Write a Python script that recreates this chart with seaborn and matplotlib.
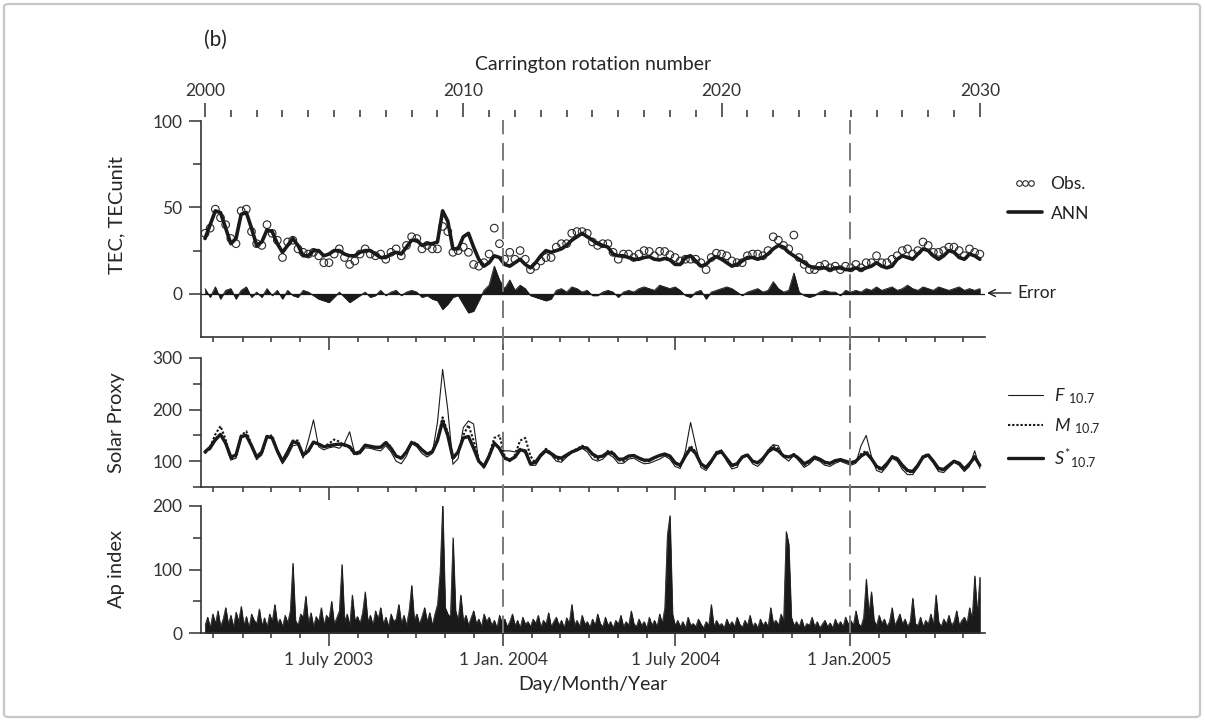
import datetime as dt

import matplotlib
matplotlib.use("Agg")
import matplotlib.pyplot as plt
import numpy as np
import seaborn as sns
from matplotlib.legend_handler import HandlerLine2D
from matplotlib.lines import Line2D
from matplotlib.patches import FancyBboxPatch

# ---------------------------------------------------------------- data
# Carrington rotation sampling of the smooth series (every 0.2 rotation)
cr = np.round(np.arange(2000.0, 2030.0001, 0.2), 1)

tec_ann = [32, 40, 48, 47, 38, 29, 32, 46, 47, 38, 28, 30, 37, 36, 29, 24, 28, 32, 28, 22,
           22, 25, 25, 22, 23, 25, 25, 23, 22, 22, 24, 25, 25, 23, 21, 21, 23, 24, 23, 27,
           31, 31, 28, 29, 29, 30, 48, 42, 26, 26, 33, 35, 27, 20, 16, 18, 22, 21, 17, 16,
           18, 20, 17, 15, 18, 22, 25, 24, 25, 26, 28, 31, 33, 35, 33, 31, 29, 28, 27, 23,
           22, 22, 21, 20, 20, 21, 21.5, 20, 19.6, 20.5, 19.6, 17, 17, 21, 22, 19, 16, 17, 20, 21.5,
           20, 18, 16, 17, 19, 21, 21, 20, 21, 23, 26, 28, 27, 24, 22, 20, 18, 16, 15, 15,
           15, 14, 15, 15, 14, 14, 15, 14, 15, 16, 18, 16, 15, 16, 20, 22, 21, 20, 23, 26,
           25, 22, 20, 22, 25, 24, 21, 20, 23, 22, 20]

tec_obs = [35, 38, 49, 44, 40, 32, 29, 48, 49, 36, 29, 28, 40, 35, 31, 21, 30, 31, 26, 24,
           23, 24, 22, 18, 18, 23, 26, 21, 17, 19, 23, 26, 23, 22, 23, 20, 24, 26, 22, 28,
           33, 32, 26, 28, 26, 26, 39, 36, 24, 25, 27, 24, 17, 16, 18, 23, 38, 29, 20, 24,
           20, 25, 20, 14, 16, 19, 21, 21, 27, 29, 29, 35, 36, 36, 35, 30, 28, 29, 29, 24,
           20, 23, 23, 21, 23, 25, 24.5, 22, 24.6, 24.5, 22.6, 21, 19, 20, 20, 20, 18, 14, 21, 23.5,
           23, 22, 19, 18, 18, 22, 23, 23, 22, 25, 33, 31, 28, 26, 34, 21, 17, 14, 14, 16,
           17, 15, 16, 14, 16, 15, 17, 15, 18, 18, 22, 18, 18, 20, 22, 25, 26, 23, 25, 30,
           28, 24, 24, 25, 27, 27, 25, 22, 26, 24, 23]

tec_err = [3, -2, 4, -3, 2, 3, -3, 2, 4, -2, 1, -2, 3, -1, 2, -3, 2, -1, -2, 2,
           1, -1, -3, -4, -5, -2, 1, -2, -5, -3, -1, 1, -2, -1, 2, -1, 1, 2, -1, 1,
           2, 1, -2, -1, -3, -4, -9, -6, -2, -1, -6, -11, -10, -4, 2, 5, 16, 8, 3, 8,
           2, 5, 3, -1, -2, -3, -4, -3, 2, 3, 1, 4, 3, 1, 2, -1, -1, 1, 2, 1,
           -2, 1, 2, 1, 3, 4, 3, 2, 5, 4, 3, 4, 2, -1, -2, 1, 2, -3, 1, 2,
           3, 4, 3, 1, -1, 1, 2, 3, 1, 2, 7, 3, 1, 2, 12, 1, -1, -2, -1, 1,
           2, 1, 1, -1, 2, 1, 2, 1, 3, 2, 4, 2, 3, 4, 2, 3, 5, 3, 2, 4,
           3, 2, 4, 3, 2, 3, 4, 2, 3, 2, 3]

f107 = [120, 122, 138, 150, 132, 102, 106, 145, 150, 128, 104, 112, 146, 148, 116, 95, 110, 130, 132, 106,
        140, 180, 128, 122, 126, 128, 125, 135, 157, 115, 114, 126, 125, 122, 120, 130, 118, 100, 95, 110,
        135, 128, 115, 108, 115, 175, 278, 200, 94, 105, 165, 178, 172, 100, 86, 105, 138, 122, 120, 120,
        118, 125, 115, 92, 92, 108, 118, 112, 100, 98, 108, 116, 120, 125, 118, 104, 100, 104, 114, 108,
        96, 96, 104, 106, 100, 95, 96, 100, 104, 110, 104, 90, 86, 120, 175, 130, 88, 82, 96, 118,
        122, 100, 85, 88, 110, 112, 95, 90, 100, 122, 132, 130, 108, 100, 112, 100, 88, 94, 104, 100,
        92, 90, 96, 100, 96, 92, 96, 130, 150, 110, 82, 78, 90, 106, 100, 84, 74, 74, 88, 106,
        110, 96, 80, 78, 88, 98, 92, 80, 90, 120, 86]

m107 = [115, 128, 152, 168, 142, 104, 110, 150, 158, 132, 104, 115, 148, 150, 120, 98, 115, 140, 140, 110,
        118, 136, 134, 128, 134, 142, 138, 130, 126, 112, 116, 130, 128, 125, 126, 138, 128, 110, 104, 118,
        138, 134, 122, 114, 120, 142, 185, 155, 104, 118, 150, 170, 140, 102, 88, 112, 145, 150, 110, 100,
        112, 140, 145, 110, 96, 112, 124, 116, 104, 102, 110, 118, 124, 130, 126, 112, 104, 110, 120, 118,
        102, 100, 108, 112, 106, 100, 100, 106, 110, 114, 110, 96, 90, 112, 130, 118, 94, 86, 100, 118,
        120, 104, 90, 94, 108, 114, 100, 96, 106, 120, 130, 124, 110, 108, 114, 106, 92, 98, 108, 104,
        96, 94, 100, 104, 100, 96, 100, 114, 120, 106, 88, 82, 94, 110, 106, 90, 80, 78, 92, 110,
        114, 100, 84, 82, 92, 100, 96, 84, 94, 110, 90]

s107 = [118, 127, 142, 152, 135, 108, 112, 148, 150, 130, 108, 118, 148, 145, 120, 100, 118, 138, 135, 112,
        120, 137, 133, 128, 130, 132, 133, 132, 128, 115, 118, 131, 129, 127, 127, 136, 125, 110, 106, 118,
        136, 132, 122, 114, 118, 140, 178, 150, 106, 118, 145, 148, 125, 100, 90, 110, 135, 125, 106, 102,
        108, 122, 120, 95, 98, 112, 121, 115, 108, 106, 112, 118, 122, 127, 125, 114, 108, 110, 117, 115,
        104, 104, 110, 111, 106, 102, 102, 107, 111, 114, 110, 97, 92, 110, 125, 115, 95, 88, 100, 115,
        118, 105, 92, 95, 108, 112, 100, 97, 105, 118, 125, 120, 110, 108, 112, 105, 95, 100, 108, 104,
        98, 96, 101, 103, 100, 97, 100, 110, 116, 105, 90, 85, 95, 108, 105, 92, 82, 80, 92, 108,
        112, 100, 86, 84, 92, 100, 96, 85, 95, 108, 92]

# Ap index sampled every 0.1 rotation
cr_ap = np.round(np.arange(2000.0, 2030.0001, 0.1), 1)
ap = [12, 25, 8, 30, 15, 35, 10, 22, 40, 14,
      28, 9, 33, 18, 42, 12, 26, 8, 30, 20,
      15, 38, 11, 24, 9, 30, 18, 45, 14, 22,
      10, 28, 16, 35, 110, 20, 12, 30, 25, 58,
      15, 32, 10, 26, 18, 40, 12, 28, 22, 50,
      14, 24, 35, 108, 18, 30, 12, 60, 20, 26,
      15, 32, 65, 18, 28, 12, 35, 22, 40, 14,
      25, 10, 30, 18, 22, 45, 15, 28, 12, 35,
      75, 20, 30, 14, 26, 40, 18, 32, 12, 30,
      45, 95, 203, 40, 30, 25, 150, 35, 20, 60,
      18, 28, 12, 24, 35, 15, 22, 10, 30, 18,
      25, 12, 20, 8, 28, 16, 22, 10, 18, 30,
      12, 20, 8, 25, 14, 18, 10, 22, 15, 28,
      9, 20, 14, 32, 10, 18, 25, 12, 20, 8,
      24, 15, 45, 12, 20, 10, 28, 14, 18, 9,
      22, 12, 30, 15, 10, 25, 12, 18, 8, 20,
      14, 28, 10, 18, 12, 35, 15, 10, 22, 12,
      18, 8, 25, 12, 20, 10, 30, 15, 40, 155,
      185, 30, 12, 20, 10, 18, 8, 25, 12, 15,
      10, 22, 14, 8, 18, 12, 45, 10, 20, 12,
      15, 8, 22, 12, 18, 10, 25, 14, 9, 20,
      12, 28, 10, 16, 8, 22, 12, 18, 10, 40,
      15, 20, 12, 30, 18, 160, 140, 25, 12, 18,
      10, 22, 8, 15, 12, 25, 10, 18, 8, 14,
      20, 10, 16, 8, 22, 12, 18, 10, 25, 14,
      20, 12, 35, 15, 10, 25, 85, 30, 65, 20,
      12, 28, 15, 22, 10, 18, 40, 12, 20, 30,
      14, 22, 10, 18, 55, 15, 12, 25, 10, 20,
      14, 30, 12, 60, 18, 10, 22, 14, 28, 12,
      18, 35, 12, 20, 25, 15, 40, 22, 90, 30,
      88]

date_ticks = ["2003-07-01", "2004-01-01", "2004-07-01", "2005-01-01"]
date_labels = ["1 July 2003", "1 Jan. 2004", "1 July 2004", "1 Jan.2005"]
boundary_dates = ["2004-01-01", "2005-01-01"]
cr_major = [2000, 2010, 2020, 2030]

# ------------------------------------------------------- time conversion
CR_EPOCH = dt.datetime(2003, 2, 20, 4, 48)   # start of rotation 2000
CR_DAYS = 27.2753


def to_cr(day):
    d = dt.datetime.fromisoformat(day)
    return 2000 + (d - CR_EPOCH).total_seconds() / 86400.0 / CR_DAYS


month_starts = [f"{y}-{m:02d}-01" for y in (2003, 2004, 2005) for m in range(1, 13)]
month_cr = [to_cr(d) for d in month_starts]
month_cr = [c for c in month_cr if 1999.85 <= c <= 2030.2]
major_cr = [to_cr(d) for d in date_ticks]

# ---------------------------------------------------------------- style
sns.set_theme(style="ticks")
plt.rcParams["font.family"] = ["Lato", "DejaVu Sans"]
plt.rcParams["mathtext.fontset"] = "custom"
plt.rcParams["mathtext.rm"] = "Lato"
plt.rcParams["mathtext.it"] = "Lato:italic"
INK = "#1a1a1a"
AX_COL = "#333333"
plt.rcParams["axes.edgecolor"] = AX_COL
plt.rcParams["xtick.color"] = AX_COL
plt.rcParams["ytick.color"] = AX_COL
plt.rcParams["text.color"] = "#222222"

W, H = 1205, 720
fig = plt.figure(figsize=(W / 100, H / 100), dpi=100)

X0, X1 = 201, 985
XLIM = (1999.845, 2030.2)


def add_panel(top, bottom):
    return fig.add_axes([X0 / W, 1 - bottom / H, (X1 - X0) / W, (bottom - top) / H])


ax1 = add_panel(121, 337)
ax2 = add_panel(358, 487)
ax3 = add_panel(506, 633)


def style(ax, ylim, major, minor, label, label_y=0.5):
    ax.set_xlim(*XLIM)
    ax.set_ylim(*ylim)
    ax.set_yticks(major)
    ax.set_yticks(minor, minor=True)
    ax.set_xticks(major_cr)
    ax.set_xticks([c for c in month_cr if all(abs(c - m) > 0.05 for m in major_cr)], minor=True)
    sns.despine(ax=ax)
    for s in ("left", "bottom"):
        ax.spines[s].set_linewidth(1.2)
    ax.tick_params(axis="y", which="major", length=9, width=1.1, labelsize=12.5, pad=4.5)
    ax.tick_params(axis="y", which="minor", length=5.5, width=1.1)
    ax.tick_params(axis="x", which="major", length=9.5, width=1.1)
    ax.tick_params(axis="x", which="minor", length=3.8, width=1.1)
    ax.set_ylabel(label, fontsize=14.5)
    ax.yaxis.set_label_coords(-0.097, label_y)
    ax.patch.set_alpha(0)


# ------------------------------------------------------------ TEC panel
ax1.fill_between(cr, 0, tec_err, color=INK, lw=0.4)
sns.lineplot(x=cr, y=tec_err, ax=ax1, color=INK, lw=0.6, legend=False)
ax1.axhline(0, color=INK, lw=0.9)
sns.scatterplot(x=cr, y=tec_obs, ax=ax1, marker="o", s=30, facecolor="none",
                edgecolor="#2a2a2a", linewidth=0.8, legend=False, zorder=3)
sns.lineplot(x=cr, y=tec_ann, ax=ax1, color=INK, lw=2.6, legend=False, zorder=4)
style(ax1, (-25, 100), [0, 50, 100], [25, 75], "TEC, TECunit", label_y=0.565)
ax1.tick_params(axis="x", labelbottom=False)

obs_h = Line2D([], [], ls="none", marker="o", ms=4, mfc="none", mec="#2a2a2a", mew=0.8)
ann_h = Line2D([], [], color=INK, lw=2.6)
ax1.legend([obs_h, ann_h], ["Obs.", "ANN"], loc="center left",
           bbox_to_anchor=(1008 / W, 1 - 199 / H), bbox_transform=fig.transFigure,
           frameon=False, fontsize=12.5, handlelength=1.95, handletextpad=0.5,
           labelspacing=0.75, borderpad=0, borderaxespad=0,
           handler_map={obs_h: HandlerLine2D(numpoints=3, marker_pad=0.62)})
ax1.annotate("Error", xy=(987, H - 293), xycoords="figure pixels",
             xytext=(1017, H - 293), textcoords="figure pixels", fontsize=12.5,
             va="center", ha="left",
             arrowprops=dict(arrowstyle="->", lw=1.0, color=INK, shrinkA=2, shrinkB=0))

# Carrington rotation axis on top
sec = ax1.secondary_xaxis(1 + 4 / 216)
sec.set_xticks(cr_major)
sec.set_xticks(np.arange(2000, 2031), minor=True)
sec.spines["top"].set_visible(False)
sec.tick_params(axis="x", which="major", length=10, width=1.1, labelsize=12.5, pad=3)
sec.tick_params(axis="x", which="minor", length=5, width=1.1)
sec.set_xlabel("Carrington rotation number", fontsize=14, labelpad=9)

# ----------------------------------------------------- solar proxy panel
sns.lineplot(x=cr, y=f107, ax=ax2, color=INK, lw=0.8, legend=False)
sns.lineplot(x=cr, y=m107, ax=ax2, color=INK, lw=1.5, linestyle=(0, (1.1, 0.9)), legend=False)
sns.lineplot(x=cr, y=s107, ax=ax2, color=INK, lw=2.4, legend=False)
style(ax2, (50, 300), [100, 200, 300], [50, 150, 250], "Solar Proxy")
ax2.tick_params(axis="x", labelbottom=False)
hf = Line2D([], [], color=INK, lw=0.8)
hm = Line2D([], [], color=INK, lw=1.5, linestyle=(0, (1.1, 0.9)))
hs = Line2D([], [], color=INK, lw=2.4)
ax2.legend([hf, hm, hs],
           [r"$F\ {}_{\mathrm{10.7}}$", r"$M\ {}_{\mathrm{10.7}}$", r"$S^{*}{}_{\mathrm{10.7}}$"],
           loc="center left", bbox_to_anchor=(1008 / W, 1 - 428 / H),
           bbox_transform=fig.transFigure, frameon=False, fontsize=13,
           handlelength=1.95, handletextpad=0.6, labelspacing=0.55,
           borderpad=0, borderaxespad=0)

# -------------------------------------------------------------- Ap panel
ax3.fill_between(cr_ap, 0, ap, color=INK, lw=0.5)
sns.lineplot(x=cr_ap, y=ap, ax=ax3, color=INK, lw=0.5, legend=False)
style(ax3, (0, 200), [0, 100, 200], [50, 150], "Ap index")
ax3.set_xticklabels(date_labels, fontsize=12.5)
ax3.tick_params(axis="x", which="major", pad=4)
ax3.set_xlabel("Day/Month/Year", fontsize=14, labelpad=6)

# ------------------------------------------- year boundaries (dashed)
ov = fig.add_axes([X0 / W, 1 - 633 / H, (X1 - X0) / W, (633 - 120) / H])
ov.set_xlim(*XLIM)
ov.set_ylim(0, 1)
ov.axis("off")
for d in boundary_dates:
    ov.axvline(to_cr(d), color="#7a7a7a", lw=1.4, dashes=(9, 4.5))

# panel tag and frame
fig.text(215 / W, 1 - 40 / H, "(b)", fontsize=15, ha="center", va="center")
fig.add_artist(FancyBboxPatch((4 / W, 3 / H), 1196 / W, 713 / H,
                              boxstyle="round,pad=0,rounding_size=0.004",
                              transform=fig.transFigure, fill=False,
                              edgecolor="#c8c8c8", lw=1.6))

fig.savefig("out.png", dpi=100)
